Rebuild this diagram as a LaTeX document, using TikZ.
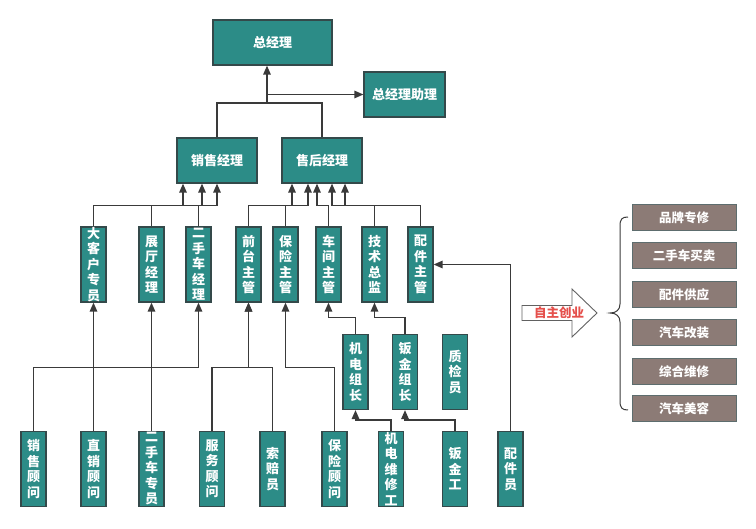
\documentclass[tikz,border=0pt]{standalone}
\usepackage{fontspec}
\newfontfamily\cjk{Noto Sans CJK SC}
\usetikzlibrary{arrows.meta,calc}
\definecolor{tealbox}{HTML}{2C8C87}
\definecolor{boxline}{HTML}{34494A}
\definecolor{brownbox}{HTML}{8C7B76}
\definecolor{wire}{HTML}{3A3A3A}
\definecolor{redtext}{HTML}{E5504C}
\newcommand\vtext[1]{\parbox[c][60pt][c]{20pt}{\centering #1}}
\begin{document}
\begin{tikzpicture}[x=1pt,y=-1pt,
  box/.style={draw=boxline, line width=1.2pt, fill=tealbox, text=white,
    font=\cjk\bfseries\fontsize{13}{15.5}\selectfont, inner sep=0pt, align=center},
  hbox/.style={box, minimum width=80pt, minimum height=45pt},
  vbox/.style={box, minimum width=25pt, minimum height=75pt},
  bbox/.style={draw=boxline!80, line width=1pt, fill=brownbox, text=white,
    font=\cjk\bfseries\fontsize{12.5}{14}\selectfont, minimum width=104pt, minimum height=26pt, inner sep=0pt},
  wireline/.style={draw=wire, line width=1.4pt},
  arr/.style={wireline, -{Triangle[length=9pt,width=7.5pt]}}
]
\useasboundingbox (0,0) rectangle (756,529);

% top level
\node[hbox, minimum width=119pt] (gm) at (272.5,42.5) {总经理};
\node[hbox, minimum width=81pt] (asst) at (404.5,94.5) {总经理助理};
\node[hbox] (sales) at (217,160.5) {销售经理};
\node[hbox] (after) at (322,160.5) {售后经理};

% level 2
\node[vbox] (dkh) at (93.5,264.5) {\vtext{大\\客\\户\\专\\员}};
\node[vbox] (zt)  at (151.5,264.5) {\vtext{展\\厅\\经\\理}};
\node[vbox] (esc) at (198.5,264.5) {\vtext{二\\手\\车\\经\\理}};
\node[vbox] (qt)  at (248.5,264.5) {\vtext{前\\台\\主\\管}};
\node[vbox] (bx)  at (285.5,264.5) {\vtext{保\\险\\主\\管}};
\node[vbox] (cj)  at (328.5,264.5) {\vtext{车\\间\\主\\管}};
\node[vbox] (js)  at (374.5,264.5) {\vtext{技\\术\\总\\监}};
\node[vbox] (pj)  at (420.5,264.5) {\vtext{配\\件\\主\\管}};

% level 3
\node[vbox] (jd) at (355.5,372) {\vtext{机\\电\\组\\长}};
\node[vbox] (bj) at (405,372) {\vtext{钣\\金\\组\\长}};
\node[vbox] (zj) at (455,372) {\vtext{质\\检\\员}};

% level 4
\node[vbox] (xsgw) at (33.5,469) {\vtext{销\\售\\顾\\问}};
\node[vbox] (zxgw) at (93.5,469) {\vtext{直\\销\\顾\\问}};
\node[vbox] (escz) at (151.5,469) {\vtext{二\\手\\车\\专\\员}};
\node[vbox] (fwgw) at (212,469) {\vtext{服\\务\\顾\\问}};
\node[vbox] (spy)  at (272.5,469) {\vtext{索\\赔\\员}};
\node[vbox] (bxgw) at (334.5,469) {\vtext{保\\险\\顾\\问}};
\node[vbox] (jdwx) at (391,469) {\vtext{机\\电\\维\\修\\工}};
\node[vbox] (bjg)  at (455,469) {\vtext{钣\\金\\工}};
\node[vbox] (pjy)  at (510.5,469) {\vtext{配\\件\\员}};

% top connections
\coordinate (j) at (267,103);
\draw[wireline] (sales.north) |- (j) -| (after.north);
\draw[arr] (j) -- (j |- gm.south);
\draw[arr] ([xshift=1pt]j |- asst) -- (asst.west);

% level 2 -> managers
\draw[arr] (dkh.north) |- ([xshift=-34pt,yshift=-22pt]sales.south) -- ([xshift=-34pt]sales.south);
\draw[arr] (zt.north)  |- ([xshift=-15pt,yshift=-22pt]sales.south) -- ([xshift=-15pt]sales.south);
\draw[arr] (esc.north) |- ([yshift=-22pt]sales.south) -- (sales.south);
\draw[arr] (qt.north)  |- ([xshift=-14pt,yshift=-22pt]after.south) -- ([xshift=-14pt]after.south);
\draw[arr] (bx.north)  |- ([xshift=-30pt,yshift=-22pt]after.south) -- ([xshift=-30pt]after.south);
\draw[arr] (cj.north)  |- ([xshift=-5pt,yshift=-22pt]after.south) -- ([xshift=-5pt]after.south);
\draw[arr] (js.north)  |- ([xshift=10pt,yshift=-22pt]after.south) -- ([xshift=10pt]after.south);
\draw[arr] (pj.north)  |- ([xshift=23pt,yshift=-22pt]after.south) -- ([xshift=23pt]after.south);

% level 3 -> level 2
\draw[arr] (jd.north) |- ([yshift=-15pt]cj.south) -- (cj.south);
\draw[arr] (bj.north) |- ([yshift=-15pt]js.south) -- (js.south);

% level 4 -> upper
\draw[arr] (xsgw.north) |- ([yshift=-65pt]esc.south) -- (esc.south);
\draw[arr] (zxgw.north) -- (dkh.south);
\draw[arr] (escz.north) -- (zt.south);
\draw[arr] (fwgw.north) |- ([yshift=-65pt]qt.south) -- (qt.south);
\draw[arr] (spy.north)  |- ([yshift=-65pt]qt.south) -- (qt.south);
\draw[arr] (bxgw.north) |- ([yshift=-65pt]bx.south) -- (bx.south);
\draw[arr] (jdwx.north) |- ([yshift=-10pt]jd.south) -- (jd.south);
\draw[arr] (bjg.north)  |- ([yshift=-10pt]bj.south) -- (bj.south);
\draw[arr] (pjy.north)  |- (pj.east);

% big arrow
\draw[draw=wire!80, line width=0.9pt, fill=white]
  (522,305.5) -- (572,305.5) -- (572,289) -- (597,313) -- (572,337) -- (572,320.5) -- (522,320.5) -- cycle;
\node[text=redtext, font=\cjk\bfseries\fontsize{12.5}{14}\selectfont] (zz) at (559,313) {自主创业};

% brace
\draw[draw=wire, line width=1pt]
  (628,217) .. controls (622,217) and (620,219) .. (620,226) -- (620,304)
  .. controls (620,310) and (616,313) .. (610,313)
  .. controls (616,313) and (620,316) .. (620,322) -- (620,401)
  .. controls (620,408) and (622,410) .. (628,410);

% brown boxes
\node[bbox] (b1) at (684,218) {品牌专修};
\node[bbox] (b2) at (684,256) {二手车买卖};
\node[bbox] (b3) at (684,294.5) {配件供应};
\node[bbox] (b4) at (684,333) {汽车改装};
\node[bbox] (b5) at (684,372) {综合维修};
\node[bbox] (b6) at (684,409) {汽车美容};
\end{tikzpicture}
\end{document}
